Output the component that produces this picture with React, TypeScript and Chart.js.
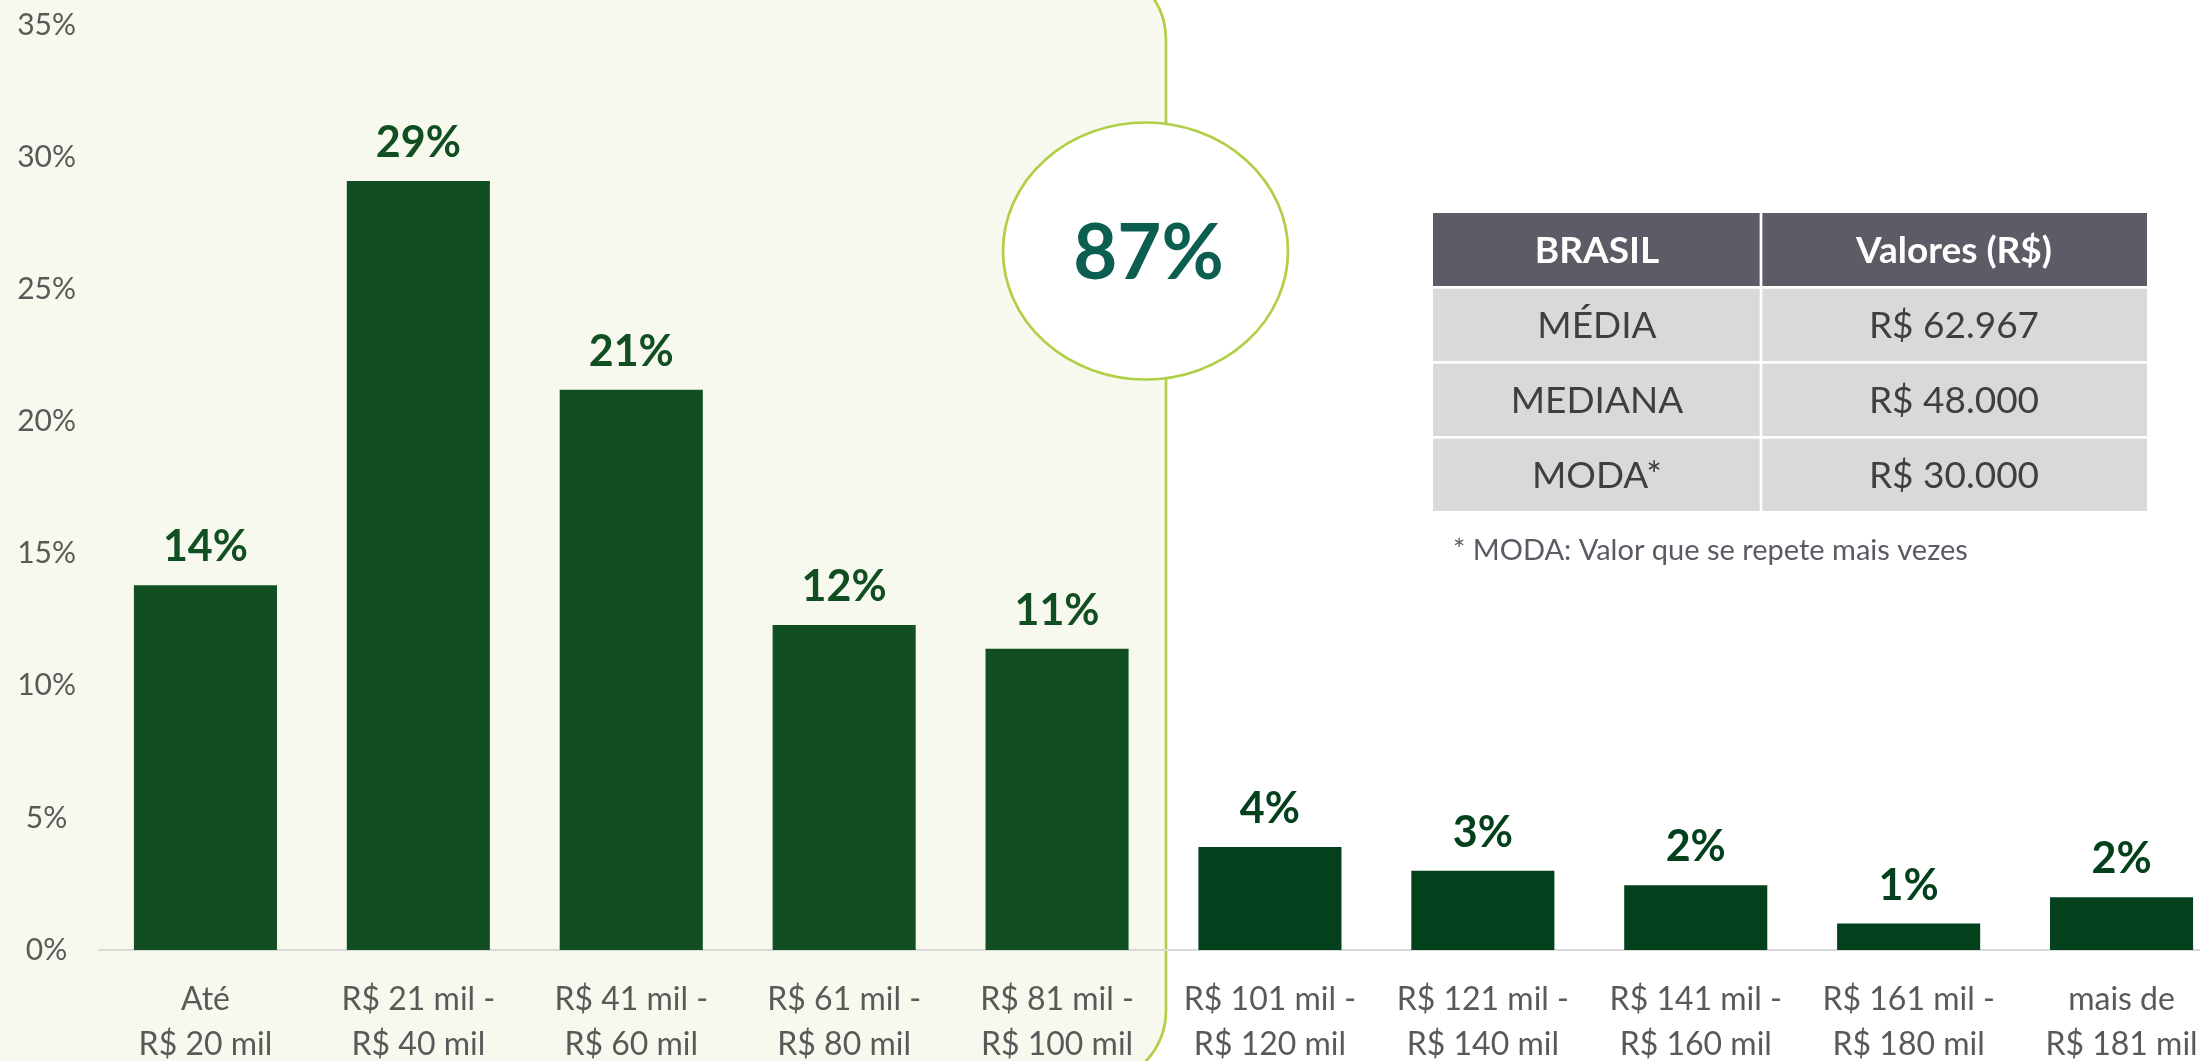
import React, { useEffect, useRef } from 'react';
import { Chart, registerables } from 'chart.js';

Chart.register(...registerables);

// ---------- data ----------
const categories: string[][] = [
  ['Até', 'R$ 20 mil'],
  ['R$ 21 mil -', 'R$ 40 mil'],
  ['R$ 41 mil -', 'R$ 60 mil'],
  ['R$ 61 mil -', 'R$ 80 mil'],
  ['R$ 81 mil -', 'R$ 100 mil'],
  ['R$ 101 mil -', 'R$ 120 mil'],
  ['R$ 121 mil -', 'R$ 140 mil'],
  ['R$ 141 mil -', 'R$ 160 mil'],
  ['R$ 161 mil -', 'R$ 180 mil'],
  ['mais de', 'R$ 181 mil'],
];
const shares: number[] = [13.8, 29.1, 21.2, 12.3, 11.4, 3.9, 3.0, 2.45, 1.0, 2.0];
const valueLabels: string[] = ['14%', '29%', '21%', '12%', '11%', '4%', '3%', '2%', '1%', '2%'];
const yMin = 0;
const yMax = 35;
const yStep = 5;
const highlightCount = 5;
const highlightTotal = '87%';
const tableHeader: string[] = ['BRASIL', 'Valores (R$)'];
const tableRows: string[][] = [
  ['MÉDIA', 'R$ 62.967'],
  ['MEDIANA', 'R$ 48.000'],
  ['MODA*', 'R$ 30.000'],
];
const footnote = '* MODA: Valor que se repete mais vezes';

// ---------- style ----------
const W = 2240;
const H = 1061;
const FONT = 'Lato, "Open Sans", sans-serif';
const GREEN_A = '#114E21';
const GREEN_B = '#03411D';
const LIME = '#AFD046';
const PANEL = '#F7F9EE';
const GREY_TXT = '#595959';

const decorPlugin = {
  id: 'decor',
  beforeDraw(chart: any) {
    const ctx = chart.ctx as CanvasRenderingContext2D;
    ctx.save();
    ctx.fillStyle = '#FFFFFF';
    ctx.fillRect(0, 0, chart.width, chart.height);
    // highlighted panel
    const l = -60, t = -35, r = 1166, b = 1085, rad = 75;
    ctx.beginPath();
    ctx.moveTo(l, t);
    ctx.lineTo(r - rad, t);
    ctx.arcTo(r, t, r, t + rad, rad);
    ctx.lineTo(r, b - rad);
    ctx.arcTo(r, b, r - rad, b, rad);
    ctx.lineTo(l, b);
    ctx.closePath();
    ctx.fillStyle = PANEL;
    ctx.fill();
    ctx.lineWidth = 2.7;
    ctx.strokeStyle = LIME;
    ctx.stroke();
    ctx.restore();
  },
  afterDatasetsDraw(chart: any) {
    const ctx = chart.ctx as CanvasRenderingContext2D;
    const meta = chart.getDatasetMeta(0);
    ctx.save();
    ctx.font = `bold 43px ${FONT}`;
    ctx.textAlign = 'center';
    ctx.textBaseline = 'alphabetic';
    meta.data.forEach((bar: any, i: number) => {
      ctx.fillStyle = i < highlightCount ? GREEN_A : GREEN_B;
      ctx.fillText(valueLabels[i], bar.x, bar.y - 24);
    });
    ctx.restore();
  },
  afterDraw(chart: any) {
    const ctx = chart.ctx as CanvasRenderingContext2D;
    ctx.save();
    // circle with total
    ctx.beginPath();
    ctx.ellipse(1145.5, 251, 142.5, 128.5, 0, 0, Math.PI * 2);
    ctx.fillStyle = '#FFFFFF';
    ctx.fill();
    ctx.lineWidth = 2.7;
    ctx.strokeStyle = LIME;
    ctx.stroke();
    ctx.fillStyle = '#0B5E50';
    ctx.font = `bold 76px ${FONT}`;
    ctx.textAlign = 'center';
    ctx.textBaseline = 'alphabetic';
    ctx.fillText(highlightTotal, 1148.5, 279);

    // table
    const tl = 1433, tr = 2147, split = 1761;
    const colCenters = [(tl + split) / 2, (split + tr) / 2];
    const gap = 2.7;
    const headTop = 213, headH = 73, rowH = 72.3;
    ctx.fillStyle = '#5C5C67';
    ctx.fillRect(tl, headTop, split - tl - gap / 2, headH);
    ctx.fillRect(split + gap / 2, headTop, tr - split - gap / 2, headH);
    ctx.fillStyle = '#FFFFFF';
    ctx.font = `bold 37px ${FONT}`;
    tableHeader.forEach((h, c) => {
      ctx.fillText(h, colCenters[c], headTop + headH / 2 + 13);
    });
    tableRows.forEach((row, r) => {
      const top = headTop + headH + gap + r * (rowH + gap);
      ctx.fillStyle = '#D9D9D9';
      ctx.fillRect(tl, top, split - tl - gap / 2, rowH);
      ctx.fillRect(split + gap / 2, top, tr - split - gap / 2, rowH);
      ctx.fillStyle = '#3F3F3F';
      ctx.font = `37px ${FONT}`;
      row.forEach((cell, c) => {
        ctx.fillText(cell, colCenters[c], top + rowH / 2 + 13);
      });
    });
    // footnote
    ctx.fillStyle = '#5A5A64';
    ctx.font = `29px ${FONT}`;
    ctx.textAlign = 'left';
    ctx.fillText(footnote, 1453, 560);
    ctx.restore();
  },
};

export default function App() {
  const ref = useRef<HTMLCanvasElement | null>(null);

  useEffect(() => {
    document.body.style.margin = '0';
    document.body.style.overflow = 'hidden';
    const canvas = ref.current;
    if (!canvas) return;
    const chart = new Chart(canvas, {
      type: 'bar',
      data: {
        labels: categories,
        datasets: [
          {
            data: shares,
            backgroundColor: shares.map((_, i) => (i < highlightCount ? GREEN_A : GREEN_B)),
            borderWidth: 0,
            barPercentage: 0.672,
            categoryPercentage: 1,
          },
        ],
      },
      options: {
        responsive: false,
        animation: false,
        devicePixelRatio: 1,
        layout: { padding: { left: 0, right: W - 2228, top: 25, bottom: 0 } },
        plugins: {
          legend: { display: false },
          tooltip: { enabled: false },
          title: { display: false },
        },
        scales: {
          x: {
            grid: { display: false },
            border: { display: true, color: '#D9D9D9', width: 2 },
            ticks: {
              color: GREY_TXT,
              font: { family: FONT, size: 32, lineHeight: 1.4 },
              padding: 19,
              maxRotation: 0,
              autoSkip: false,
            },
            afterFit(scale: any) {
              scale.height = H - 950;
              scale.paddingLeft = 0;
              scale.paddingRight = 0;
            },
          },
          y: {
            min: yMin,
            max: yMax,
            grid: { display: false },
            border: { display: false },
            ticks: {
              stepSize: yStep,
              color: GREY_TXT,
              crossAlign: 'center',
              padding: 15,
              font: { family: FONT, size: 30 },
              callback: (v: any) => `${v}%`,
            },
            afterFit(scale: any) {
              scale.width = 99;
              scale.paddingTop = 0;
              scale.paddingBottom = 0;
            },
          },
        },
      } as any,
      plugins: [decorPlugin],
    });
    return () => chart.destroy();
  }, []);

  return (
    <div style={{ width: W, height: H, overflow: 'hidden' }}>
      <canvas ref={ref} width={W} height={H} style={{ display: 'block', width: W, height: H }} />
    </div>
  );
}
